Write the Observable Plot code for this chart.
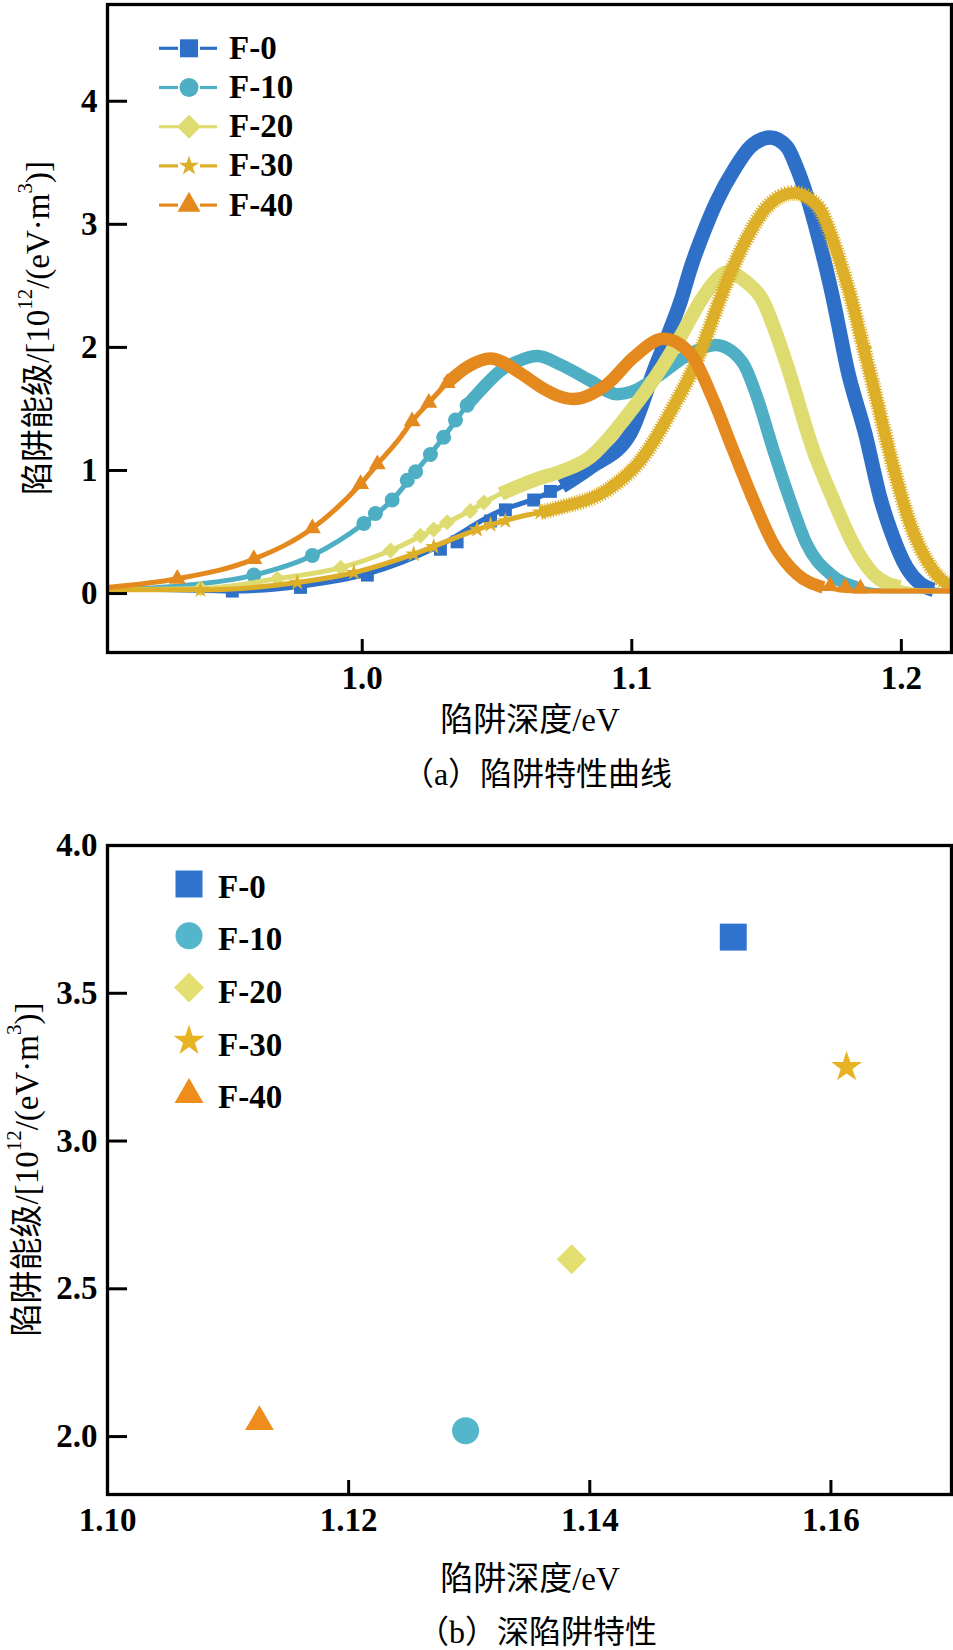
<!DOCTYPE html>
<html><head><meta charset="utf-8">
<script src="https://cdn.jsdelivr.net/npm/d3@7"></script>
<script src="https://cdn.jsdelivr.net/npm/@observablehq/plot@0.6"></script>
<style>
body{margin:0;background:#fff;}
#wrap{position:relative;width:953px;height:1650px;overflow:hidden;background:#fff;}
</style></head>
<body><div id="wrap"></div>
<script>
// ---------- data ----------
const series = ["F-0", "F-10", "F-20", "F-30", "F-40"];

// (a) trap characteristic curves: [depth eV, level 1e12/(eV·m3)]
const curveF0 = [[0.9055,0.04],[0.930,0.03],[0.952,0.02],[0.977,0.06],[1.002,0.16],[1.027,0.37],[1.051,0.67],[1.064,0.77],[1.074,0.87],[1.085,1.03],[1.0994,1.30],[1.1087,1.84],[1.1136,2.11],[1.1182,2.38],[1.1219,2.65],[1.1264,2.92],[1.1316,3.19],[1.1384,3.46],[1.144,3.63],[1.1514,3.705],[1.1575,3.63],[1.1612,3.46],[1.1655,3.19],[1.1689,2.92],[1.172,2.65],[1.1748,2.38],[1.1773,2.11],[1.1798,1.84],[1.1866,1.30],[1.1924,0.76],[1.1964,0.49],[1.202,0.21],[1.207,0.08],[1.212,0.03],[1.2186,0.02]];
const curveF10 = [[0.9055,0.03],[0.934,0.065],[0.9598,0.15],[0.9815,0.31],[1.0006,0.57],[1.0111,0.76],[1.0198,0.99],[1.0302,1.27],[1.0389,1.53],[1.0451,1.68],[1.0513,1.81],[1.058,1.89],[1.065,1.93],[1.0735,1.86],[1.0846,1.73],[1.0945,1.62],[1.101,1.65],[1.1093,1.76],[1.1217,1.95],[1.131,2.02],[1.137,1.97],[1.1421,1.84],[1.1464,1.60],[1.1526,1.16],[1.1587,0.76],[1.1649,0.40],[1.1736,0.16],[1.1835,0.05],[1.195,0.02],[1.2186,0.02]];
const curveF20 = [[0.9055,0.03],[0.94,0.04],[0.9685,0.12],[0.992,0.21],[1.0105,0.35],[1.0265,0.52],[1.0389,0.66],[1.0513,0.81],[1.0661,0.94],[1.0735,0.99],[1.0846,1.11],[1.097,1.41],[1.1112,1.84],[1.1186,2.11],[1.1256,2.38],[1.1305,2.53],[1.1354,2.61],[1.142,2.54],[1.1486,2.38],[1.1536,2.11],[1.1578,1.84],[1.1674,1.16],[1.1748,0.76],[1.1822,0.40],[1.1896,0.16],[1.1995,0.05],[1.21,0.02],[1.2186,0.02]];
const curveF30 = [[0.9055,0.03],[0.94,0.03],[0.9759,0.09],[0.9969,0.17],[1.0191,0.32],[1.0414,0.51],[1.0575,0.62],[1.0661,0.66],[1.0735,0.70],[1.0908,0.84],[1.1032,1.08],[1.1155,1.52],[1.123,1.84],[1.128,2.11],[1.1325,2.38],[1.1375,2.65],[1.1435,2.92],[1.1501,3.14],[1.160,3.255],[1.1693,3.14],[1.1738,2.92],[1.1779,2.65],[1.1816,2.38],[1.1847,2.11],[1.1878,1.84],[1.1909,1.57],[1.197,1.03],[1.2032,0.57],[1.2094,0.27],[1.2168,0.08],[1.2186,0.06]];
const curveF40 = [[0.9055,0.05],[0.9314,0.12],[0.9598,0.28],[0.9815,0.53],[0.9994,0.89],[1.0056,1.05],[1.0142,1.27],[1.0185,1.40],[1.0247,1.55],[1.0315,1.71],[1.0389,1.84],[1.0476,1.91],[1.0587,1.79],[1.0661,1.68],[1.0735,1.60],[1.0784,1.58],[1.0908,1.70],[1.1007,1.92],[1.1118,2.07],[1.1217,1.95],[1.1303,1.57],[1.1377,1.16],[1.1451,0.76],[1.1526,0.40],[1.1612,0.16],[1.1711,0.05],[1.185,0.02],[1.2186,0.02]];

// individually visible markers on the curves
const markF0 = [[0.9518,0.02],[0.9771,0.05],[1.0019,0.15],[1.029,0.36],[1.0352,0.42],[1.0476,0.59],[1.0531,0.68],[1.0636,0.76],[1.0698,0.83]];
const markF10 = [[0.9598,0.15],[0.9815,0.31],[1.0006,0.57],[1.0049,0.65],[1.0111,0.76],[1.0167,0.92],[1.0198,0.99],[1.0253,1.13],[1.0302,1.27],[1.0346,1.41],[1.0389,1.53]];
const markF20 = [[0.94,0.04],[0.9685,0.12],[0.992,0.21],[1.0105,0.35],[1.0216,0.47],[1.0265,0.52],[1.0315,0.58],[1.0401,0.67],[1.0451,0.74]];
const markF30 = [[0.94,0.03],[0.9759,0.09],[0.9969,0.17],[1.0191,0.32],[1.0265,0.38],[1.0426,0.52],[1.0476,0.56],[1.0531,0.59],[1.0661,0.66]];
const markF40 = [[0.9314,0.12],[0.9598,0.28],[0.9815,0.53],[0.9994,0.89],[1.0056,1.05],[1.0185,1.40],[1.0247,1.55],[1.0315,1.71],[1.1736,0.06],[1.1792,0.05],[1.1848,0.04]];

// depth range where markers merge into a dense band
const denseFrom = [1.07, 1.04, 1.046, 1.066, 1.032];
const denseTo = [1.212, 1.19, 1.205, 1.2186, 1.18];

// (b) deep trap peaks
const deepDepth = [1.1519, 1.1297, 1.1385, 1.1613, 1.1126];
const deepLevel = [3.69, 2.02, 2.60, 3.25, 2.05];

// tick values
const xTicksA = [1.0, 1.1, 1.2];
const yTicksA = [0, 1, 2, 3, 4];
const xTicksB = [1.10, 1.12, 1.14, 1.16];
const yTicksB = [2.0, 2.5, 3.0, 3.5, 4.0];

// ---------- styles ----------
const colorsA = ["#2E70C8", "#4EAEC3", "#DEDB70", "#DDAE28", "#E4891E"];
const colorsB = ["#2F74CE", "#53B6CA", "#E3E071", "#E7B323", "#EE8C1C"];
const diamondSym = {draw(ctx, size){const r = Math.sqrt(size)*0.62625; ctx.moveTo(0,-r); ctx.lineTo(r,0); ctx.lineTo(0,r); ctx.lineTo(-r,0); ctx.closePath();}};
const symbolTypes = [d3.symbolSquare, d3.symbolCircle, diamondSym, d3.symbolStar, d3.symbolTriangle];
const markR = [7.3, 7.5, 7.2, 5.3, 6.3];
const bandW = [14.5, 12.5, 14, 11.5, 12.5];
const ragged = [false, false, false, true, false];
const deepR = [15.2, 13.5, 13.5, 9.74, 10.65];
const FONT = "'Liberation Serif','Noto Sans CJK SC',serif";
const CURVE = "monotone-x";

const curves = [curveF0, curveF10, curveF20, curveF30, curveF40];
const marks = [markF0, markF10, markF20, markF30, markF40];

const wrap = document.getElementById("wrap");

// ---------- (a) ----------
const W = 953, HA = 800, mlA = 107, mrA = 2, mtA = 4, mbA = 148;
const innerWA = W - mlA - mrA, innerHA = HA - mtA - mbA;
const curveMarks = [];
series.forEach((s, i) => {
  const rows = curves[i].map(([x, y]) => ({x, y}));
  const dense = rows.filter(d => d.x >= denseFrom[i] - 0.004 && d.x <= denseTo[i]);
  const mk = marks[i].map(([x, y]) => ({x, y}));
  curveMarks.push(
    Plot.line(rows, {x: "x", y: "y", stroke: colorsA[i], strokeWidth: 5, curve: CURVE, clip: true})
  );
  if (ragged[i]) curveMarks.push(
    Plot.line(dense, {x: "x", y: "y", stroke: colorsA[i], strokeWidth: bandW[i] + 4, strokeDasharray: "1.2,1.6", curve: CURVE, strokeLinecap: "butt", clip: true})
  );
  curveMarks.push(
    Plot.line(dense, {x: "x", y: "y", stroke: colorsA[i], strokeWidth: bandW[i], curve: CURVE, strokeLinecap: "butt", clip: true}),
    Plot.dot(mk, {x: "x", y: "y", symbol: symbolTypes[i], r: markR[i], fill: colorsA[i], clip: true})
  );
});

const pA = Plot.plot({
  width: W, height: HA, marginLeft: mlA, marginRight: mrA, marginTop: mtA, marginBottom: mbA,
  x: {domain: [0.9055, 1.2186]},
  y: {domain: [-0.479, 4.786]},
  style: {fontFamily: FONT, color: "black", background: "white", overflow: "visible"},
  marks: [
    ...curveMarks,
    Plot.tickX(xTicksA, {x: d => d, insetTop: innerHA - 13, strokeWidth: 3, stroke: "black"}),
    Plot.tickY(yTicksA, {y: d => d, insetRight: innerWA - 20, strokeWidth: 3, stroke: "black"}),
    Plot.axisX({ticks: xTicksA, tickSize: 0, tickPadding: 13, tickFormat: d3.format(".1f"), fontSize: 33, fontWeight: "bold", fontFamily: "Liberation Serif", label: null}),
    Plot.axisY({ticks: yTicksA, tickSize: 0, tickPadding: 10, tickFormat: d3.format("d"), fontSize: 33, fontWeight: "bold", fontFamily: "Liberation Serif", label: null}),
    Plot.frame({stroke: "black", strokeWidth: 3.3})
  ]
});
pA.style.position = "absolute"; pA.style.left = "0px"; pA.style.top = "0px";
wrap.append(pA);

// ---------- (b) ----------
const HB = 850, mlB = 107, mrB = 2, mtB = 45, mbB = 156;
const innerWB = W - mlB - mrB, innerHB = HB - mtB - mbB;
const deepMarks = series.map((s, i) =>
  Plot.dot([{x: deepDepth[i], y: deepLevel[i]}], {x: "x", y: "y", symbol: symbolTypes[i], r: deepR[i], fill: colorsB[i]})
);
const pB = Plot.plot({
  width: W, height: HB, marginLeft: mlB, marginRight: mrB, marginTop: mtB, marginBottom: mbB,
  x: {domain: [1.10, 1.17]},
  y: {domain: [1.804, 4.0]},
  style: {fontFamily: FONT, color: "black", background: "white", overflow: "visible"},
  marks: [
    ...deepMarks,
    Plot.tickX(xTicksB, {x: d => d, insetTop: innerHB - 14, strokeWidth: 3, stroke: "black"}),
    Plot.tickY(yTicksB, {y: d => d, insetRight: innerWB - 20, strokeWidth: 3, stroke: "black"}),
    Plot.axisX({ticks: xTicksB, tickSize: 0, tickPadding: 13, tickFormat: d3.format(".2f"), fontSize: 33, fontWeight: "bold", fontFamily: "Liberation Serif", label: null}),
    Plot.axisY({ticks: yTicksB, tickSize: 0, tickPadding: 10, tickFormat: d3.format(".1f"), fontSize: 33, fontWeight: "bold", fontFamily: "Liberation Serif", label: null}),
    Plot.frame({stroke: "black", strokeWidth: 3.3})
  ]
});
pB.style.position = "absolute"; pB.style.left = "0px"; pB.style.top = HA + "px";
wrap.append(pB);

// ---------- overlay: titles, captions, legends ----------
const ov = d3.select(wrap).append("svg")
  .attr("width", W).attr("height", 1650)
  .style("position", "absolute").style("left", "0px").style("top", "0px")
  .style("font-family", FONT).style("pointer-events", "none");

function yLabel(cx, cy) {
  const t = ov.append("text")
    .attr("transform", `translate(${cx},${cy}) rotate(-90)`)
    .attr("text-anchor", "middle").attr("dominant-baseline", "central")
    .style("font-size", "33px").attr("fill", "black");
  t.append("tspan").text("陷阱能级/[10");
  t.append("tspan").attr("dy", -13).style("font-size", "21px").text("12");
  t.append("tspan").attr("dy", 13).text("/(eV·m");
  t.append("tspan").attr("dy", -13).style("font-size", "21px").text("3");
  t.append("tspan").attr("dy", 13).text(")]");
}
function textAt(x, y, str, size) {
  ov.append("text").attr("x", x).attr("y", y).attr("text-anchor", "middle")
    .style("font-size", size + "px").attr("fill", "black").text(str);
}
yLabel(38, 328);
yLabel(27, 1169.5);
textAt(530, 731, "陷阱深度/eV", 33);
textAt(537, 785, "（a）陷阱特性曲线", 32);
textAt(530, 1590, "陷阱深度/eV", 33);
textAt(537, 1643, "（b）深陷阱特性", 32);

// legend (a)
const legASize = [324, 283, 367, 124, 229];
series.forEach((s, i) => {
  const y = 48.3 + i * 39.2;
  ov.append("line").attr("x1", 159).attr("x2", 178).attr("y1", y).attr("y2", y).attr("stroke", colorsA[i]).attr("stroke-width", 3.2);
  ov.append("line").attr("x1", 200).attr("x2", 217).attr("y1", y).attr("y2", y).attr("stroke", colorsA[i]).attr("stroke-width", 3.2);
  ov.append("path").attr("transform", `translate(189,${y})`).attr("fill", colorsA[i])
    .attr("d", d3.symbol().type(symbolTypes[i]).size(legASize[i])());
  ov.append("text").attr("x", 229).attr("y", y + 10.5).style("font-size", "33px").style("font-weight", "bold").attr("fill", "black").text(s);
});

// legend (b)
const legBSize = [729, 573, 574, 298, 364];
const legBShift = [0, 0, 0, 1.5, 3.5];
series.forEach((s, i) => {
  const y = 884 + i * 51.8;
  ov.append("path").attr("transform", `translate(189,${y + legBShift[i]})`).attr("fill", colorsB[i])
    .attr("d", d3.symbol().type(symbolTypes[i]).size(legBSize[i])());
  ov.append("text").attr("x", 218).attr("y", 897.7 + i * 52.6).style("font-size", "33px").style("font-weight", "bold").attr("fill", "black").text(s);
});
</script>
</body></html>
